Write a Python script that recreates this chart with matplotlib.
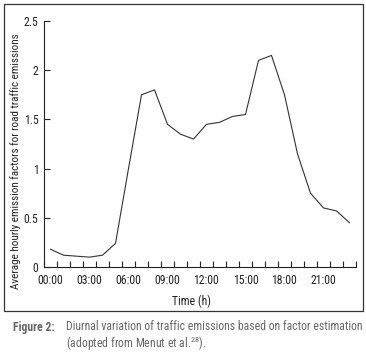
import matplotlib
matplotlib.use('Agg')
import matplotlib.pyplot as plt
from matplotlib.patches import Rectangle

plt.rcParams['font.family'] = ['Roboto Condensed', 'DejaVu Sans']
plt.rcParams['mathtext.fontset'] = 'custom'
plt.rcParams['mathtext.rm'] = 'Roboto Condensed'

hours = list(range(24))
emission = [0.18, 0.12, 0.11, 0.10, 0.12, 0.24, 1.00, 1.75, 1.80, 1.45, 1.35, 1.30,
            1.45, 1.47, 1.53, 1.55, 2.10, 2.15, 1.75, 1.15, 0.75, 0.60, 0.57, 0.45]
tick_labels = ['00:00', '03:00', '06:00', '09:00', '12:00', '15:00', '18:00', '21:00']
y_ticks = [0, 0.5, 1, 1.5, 2, 2.5]
y_labels = ['0', '0.5', '1', '1.5', '2', '2.5']


def main():
    W, H = 366, 353
    fig = plt.figure(figsize=(W / 100, H / 100), dpi=100)

    # outer frame around the chart
    fig.patches.append(Rectangle((4 / W, 1 - 311 / H), 359 / W, 307 / H,
                                 transform=fig.transFigure, fill=False,
                                 edgecolor='#333333', linewidth=0.9))

    ax = fig.add_axes([44 / W, 1 - 267 / H, 312 / W, 246 / H])
    ax.plot(hours, emission, color='#333333', linewidth=0.8)

    ax.set_xlim(-0.5, 23.5)
    ax.set_ylim(0, 2.5)
    for s in ['top', 'right']:
        ax.spines[s].set_visible(False)
    for s in ['left', 'bottom']:
        ax.spines[s].set_color('#222222')
        ax.spines[s].set_linewidth(0.8)

    # category boundaries get tick marks, labels sit on the categories
    ax.set_xticks([h - 0.5 for h in range(25)])
    ax.set_xticklabels([])
    ax.set_xticks(hours[::3], minor=True)
    ax.set_xticklabels(tick_labels, minor=True)
    ax.tick_params(axis='x', which='major', direction='in', length=4, width=0.8, color='#222222')
    ax.tick_params(axis='x', which='minor', length=0, pad=5, labelsize=8.5, labelcolor='#222222')

    ax.set_yticks(y_ticks)
    ax.set_yticklabels(y_labels)
    ax.tick_params(axis='y', direction='in', length=4, width=0.8, pad=4,
                   labelsize=8.5, color='#222222', labelcolor='#222222')

    fig.text(192 / W, 1 - 301 / H, 'Time (h)', ha='center', va='center',
             fontsize=8.5, color='#222222')
    fig.text(16 / W, 1 - 161 / H, 'Average hourly emission factors for road traffic emissions',
             ha='center', va='center', rotation=90, fontsize=8, color='#222222')

    # caption
    fig.text(13 / W, 1 - 327 / H, 'Figure 2:', ha='left', va='center',
             fontsize=8.5, fontweight='bold', color='#666666')
    fig.text(66 / W, 1 - 327 / H, 'Diurnal variation of traffic emissions based on factor estimation',
             ha='left', va='center', fontsize=8.5, color='#666666')
    fig.text(66 / W, 1 - 344 / H, r'(adopted from Menut et al.$^{\mathregular{28}}$).',
             ha='left', va='center', fontsize=8.5, color='#666666')

    fig.savefig('out.png', dpi=100)


if __name__ == '__main__':
    main()
